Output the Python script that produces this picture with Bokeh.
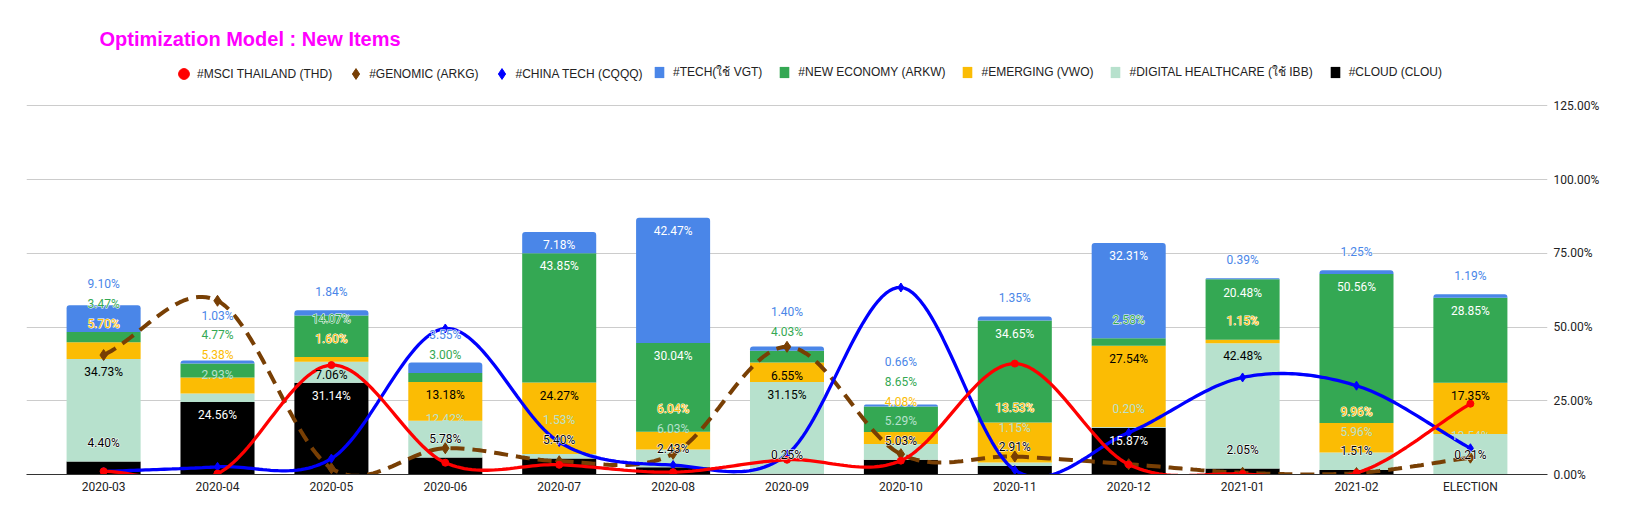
from bokeh.plotting import figure
from bokeh.models import Range1d, FixedTicker, Legend, LegendItem, ColumnDataSource, Label, Text
from bokeh.core.properties import value
from bokeh.embed import file_html
from bokeh.resources import INLINE
import numpy as np

# ---------------- data ----------------
categories = ["2020-03", "2020-04", "2020-05", "2020-06", "2020-07", "2020-08", "2020-09",
              "2020-10", "2020-11", "2020-12", "2021-01", "2021-02", "ELECTION"]

# stacked bars, bottom -> top (percent)
cloud       = [4.40, 24.56, 31.14, 5.78, 5.40, 2.43, 0.25, 5.03, 2.91, 15.87, 2.05, 1.51, 0.21]
healthcare  = [34.73, 2.93, 7.06, 12.42, 1.53, 6.03, 31.15, 5.29, 1.15, 0.20, 42.48, 5.96, 13.54]
emerging    = [5.70, 5.38, 1.60, 13.18, 24.27, 6.04, 6.55, 4.08, 13.53, 27.54, 1.15, 9.96, 17.35]
new_economy = [3.47, 4.77, 14.07, 3.00, 43.85, 30.04, 4.03, 8.65, 34.65, 2.58, 20.48, 50.56, 28.85]
tech        = [9.10, 1.03, 1.84, 3.55, 7.18, 42.47, 1.40, 0.66, 1.35, 32.31, 0.39, 1.25, 1.19]

# line series (percent)
thailand   = [1.1, 0.3, 37.1, 4.0, 3.3, 0.8, 5.0, 4.7, 37.6, 3.4, 0.2, 0.5, 24.0]
genomic    = [40.5, 58.9, 2.1, 8.9, 4.5, 7.0, 43.3, 6.9, 6.1, 3.5, 0.6, 0.5, 5.7]
china_tech = [1.0, 2.6, 5.4, 49.5, 11.0, 3.2, 6.8, 63.4, 1.5, 14.2, 32.9, 30.1, 8.9]

y_tick_values = [0, 25, 50, 75, 100, 125]
y_tick_labels = ["0.00%", "25.00%", "50.00%", "75.00%", "100.00%", "125.00%"]

title_text = "Optimization Model : New Items"

# name, values, fill colour, label colour when inside, halo when outside
bar_series = [
    ("#CLOUD (CLOU)", cloud, "#000000", "#ffffff", True),
    ("#DIGITAL HEALTHCARE (ใช้ IBB)", healthcare, "#b7e1cd", "#000000", False),
    ("#EMERGING (VWO)", emerging, "#fbbc04", "#000000", True),
    ("#NEW ECONOMY (ARKW)", new_economy, "#34a853", "#ffffff", True),
    ("#TECH(ใช้ VGT)", tech, "#4a86e8", "#ffffff", True),
]

# ---------------- layout geometry ----------------
W, H = 1612, 504
frame_left, frame_right = 26, 1547
frame_top, frame_bottom = 18, 474
MB_L, MB_R, MB_T, MB_B = frame_left, W - frame_right, frame_top, H - frame_bottom
frame_w = frame_right - frame_left
frame_h = frame_bottom - frame_top
y125_px = 105.3
y_top = 125.0 * frame_h / (frame_bottom - y125_px)
x_pad = 0.677
x0, x1 = -x_pad, len(categories) - 1 + x_pad


def x_of_px(px):
    return x0 + (px - frame_left) / frame_w * (x1 - x0)


def y_of_px(py):
    return (frame_bottom - py) / frame_h * y_top


p = figure(width=W, height=H, x_range=Range1d(x0, x1), y_range=Range1d(0, y_top),
           output_backend="svg", toolbar_location=None, y_axis_location="right",
           min_border_left=MB_L, min_border_right=MB_R, min_border_top=MB_T,
           min_border_bottom=MB_B)
p.outline_line_color = None
p.background_fill_color = "white"

xs = np.arange(len(categories), dtype=float)

# ---------------- bars ----------------
bar_width = 0.65
bottom = np.zeros(len(categories))
bar_renderers = {}
for idx, (name, vals, color, _, _) in enumerate(bar_series):
    v = np.asarray(vals, dtype=float)
    src = ColumnDataSource(dict(x=xs, bottom=bottom.copy(), top=bottom + v))
    kw = {}
    if idx == len(bar_series) - 1:
        kw["border_radius"] = (3, 3, 0, 0)
    r = p.vbar(x="x", width=bar_width, bottom="bottom", top="top", source=src,
               fill_color=color, line_color=None, **kw)
    bar_renderers[name] = r
    bottom = bottom + v


# ---------------- smooth lines ----------------
def smooth(ys, n=30):
    ys = np.asarray(ys, dtype=float)
    m = np.zeros_like(ys)
    m[1:-1] = (ys[2:] - ys[:-2]) / 2.0
    m[0] = ys[1] - ys[0]
    m[-1] = ys[-1] - ys[-2]
    ox, oy = [], []
    for i in range(len(ys) - 1):
        t = np.linspace(0, 1, n, endpoint=False)
        h00 = 2 * t**3 - 3 * t**2 + 1
        h10 = t**3 - 2 * t**2 + t
        h01 = -2 * t**3 + 3 * t**2
        h11 = t**3 - t**2
        oy.extend(h00 * ys[i] + h10 * m[i] + h01 * ys[i + 1] + h11 * m[i + 1])
        ox.extend(xs[i] + t)
    ox.append(xs[-1])
    oy.append(ys[-1])
    return ox, oy


gx, gy = smooth(genomic)
p.line(gx, gy, line_color="#783f04", line_width=4, line_dash="14 8")
bx, by = smooth(china_tech)
p.line(bx, by, line_color="#0000ff", line_width=3.3)
rx, ry = smooth(thailand)
p.line(rx, ry, line_color="#ff0000", line_width=3.3)

m_gen = p.scatter(xs, genomic, marker="diamond", size=11, fill_color="#783f04", line_color="#783f04")
m_chn = p.scatter(xs, china_tech, marker="diamond", size=9, fill_color="#0000ff", line_color="#0000ff")
m_tha = p.scatter(xs, thailand, marker="circle", size=7, fill_color="#ff0000", line_color="#ff0000")

# ---------------- data labels (Google-like placement) ----------------
SPACING, OUT, IN, FIT, TOL = 6.7, 6.3, 4.5, 6.3, 0.5
ins = dict(x=[], y=[], text=[], color=[])
outs = dict(x=[], y=[], text=[], color=[])
halo = dict(x=[], y=[], text=[])
for i in range(len(categories)):
    prev = -1e9
    top = 0.0
    for name, vals, color, contrast, has_halo in bar_series:
        v = vals[i]
        top += v
        inside = False
        if v >= FIT and top - IN >= prev + SPACING - TOL:
            y = top - IN
            inside = True
        elif v >= FIT:
            y = prev + SPACING
        else:
            y = max(top + OUT, prev + SPACING)
        prev = y
        txt = f"{v:.2f}%"
        target = ins if inside else outs
        target["x"].append(xs[i])
        target["y"].append(y)
        target["text"].append(txt)
        target["color"].append(contrast if inside else color)
        if not inside and has_halo:
            halo["x"].append(xs[i])
            halo["y"].append(y)
            halo["text"].append(txt)

label_kw = dict(text_font=value("Roboto"), text_font_size="12px", text_align="center",
                text_baseline="middle")
if "text_outline_color" in Text.properties():
    # white halo underneath the outside labels
    p.text(x="x", y="y", text="text", text_color="white", text_outline_color="white",
           source=ColumnDataSource(halo), **label_kw)
p.text(x="x", y="y", text="text", text_color="color", source=ColumnDataSource(ins), **label_kw)
p.text(x="x", y="y", text="text", text_color="color", source=ColumnDataSource(outs), **label_kw)

# ---------------- axes / grid ----------------
p.xaxis.ticker = FixedTicker(ticks=list(range(len(categories))))
p.xaxis.major_label_overrides = {i: c for i, c in enumerate(categories)}
p.xaxis.major_tick_line_color = None
p.xaxis.minor_tick_line_color = None
p.xaxis.major_tick_out = 0
p.xaxis.minor_tick_out = 0
p.xaxis.axis_line_color = "#333333"
p.xaxis.major_label_standoff = 5
p.xaxis.major_label_text_font = "Roboto"
p.xaxis.major_label_text_font_size = "12px"
p.xaxis.major_label_text_color = "#222222"
p.xgrid.grid_line_color = None

p.yaxis.ticker = FixedTicker(ticks=y_tick_values)
p.yaxis.major_label_overrides = {v: l for v, l in zip(y_tick_values, y_tick_labels)}
p.yaxis.axis_line_color = None
p.yaxis.major_tick_line_color = None
p.yaxis.minor_tick_line_color = None
p.yaxis.major_tick_out = 0
p.yaxis.minor_tick_out = 0
p.yaxis.major_label_standoff = 6
p.yaxis.major_label_text_font = "Roboto"
p.yaxis.major_label_text_font_size = "12px"
p.yaxis.major_label_text_color = "#222222"
p.ygrid.ticker = FixedTicker(ticks=y_tick_values)
p.ygrid.grid_line_color = "#cccccc"

# ---------------- title ----------------
p.add_layout(Label(x=x_of_px(99), y=y_of_px(38), text=title_text, text_color="#ff00ff",
                   text_font="Liberation Sans", text_font_style="bold", text_font_size="20px",
                   text_baseline="middle", text_align="left"))

# ---------------- legends ----------------
legend_common = dict(orientation="horizontal", label_height=14, padding=0, margin=0,
                     border_line_color=None, background_fill_alpha=0,
                     label_text_font="Liberation Sans", label_text_font_size="12px",
                     label_text_color="#222222")
line_items = [
    LegendItem(label="#MSCI THAILAND (THD)", renderers=[m_tha]),
    LegendItem(label="#GENOMIC (ARKG)", renderers=[m_gen]),
    LegendItem(label="#CHINA TECH (CQQQ)", renderers=[m_chn]),
]
gw = 27
legend_a = Legend(items=line_items, location=(183 - gw // 2 - frame_left, (frame_bottom - 74) - gw // 2),
                  glyph_width=gw, glyph_height=gw, label_standoff=-3, spacing=10, **legend_common)
p.add_layout(legend_a)

bar_items = [LegendItem(label=name, renderers=[bar_renderers[name]])
             for name in ["#TECH(ใช้ VGT)", "#NEW ECONOMY (ARKW)", "#EMERGING (VWO)",
                          "#DIGITAL HEALTHCARE (ใช้ IBB)", "#CLOUD (CLOU)"]]
legend_b = Legend(items=bar_items, location=(653 - frame_left, (frame_bottom - 74) - 7),
                  glyph_width=12, glyph_height=14, label_standoff=8, spacing=16, **legend_common)
p.add_layout(legend_b)

open("out.html", "w").write(file_html(p, INLINE))
